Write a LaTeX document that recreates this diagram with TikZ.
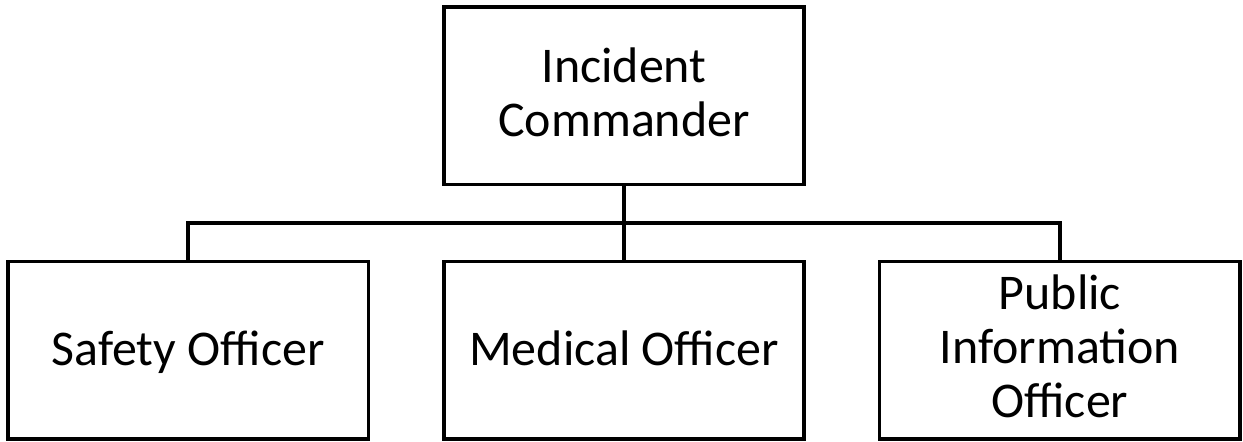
\documentclass[tikz,border=0pt]{standalone}
\usepackage{fontspec}
\setmainfont{Carlito}
\usetikzlibrary{positioning,calc}
\newcommand\orgstrut{\rule[-4.4pt]{0pt}{26.4pt}}
\tikzset{
  box/.style        = {draw, line width=1.9pt, minimum width=7.22cm, minimum height=3.56cm,
                       align=center, inner sep=2pt,
                       execute at begin node=\orgstrut, execute at end node=\orgstrut},
  wire/.style       = {line width=1.9pt},
  node distance     = 1.47cm and 1.45cm,
  every node/.style = {font=\fontsize{28.5}{31}\selectfont},
}
\begin{document}
\begin{tikzpicture}
  \node[box] (ic) {Incident\\Commander};
  \node[box, below=of ic] (med) {Medical Officer};
  \node[box, left=of med] (safe) {Safety Officer};
  \node[box, right=of med] (pio) {Public\\Information\\Officer};
  % bus line halfway between commander and officers
  \coordinate (bus) at ($(ic.south)!0.5!(med.north)$);
  \draw[wire] (ic) -- (med);
  \draw[wire] (safe.north) |- (bus) -| (pio.north);
  \useasboundingbox ($(safe.south west)+(-0.127,-0.027)$)
    rectangle ($(ic.north -| pio.east)+(0.027,0.107)$);
\end{tikzpicture}
\end{document}
